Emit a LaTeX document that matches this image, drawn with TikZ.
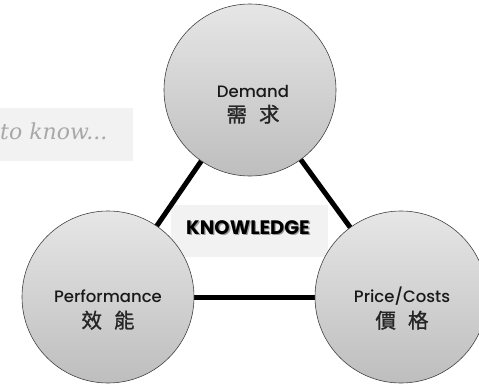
\documentclass[tikz,border=0pt]{standalone}
\usepackage{fontspec}
\newfontfamily\geo{Poppins Medium}
\newfontfamily\geob{Poppins Bold}
\newfontfamily\cjk[FakeBold=1.2]{Noto Sans CJK TC}
\newfontfamily\scr{DejaVu Serif}
\usetikzlibrary{backgrounds,shadings}
\definecolor{ctop}{HTML}{E6E6E6}
\definecolor{cbot}{HTML}{BEBEBE}
\definecolor{boxgray}{HTML}{F2F2F2}
\definecolor{scrgray}{HTML}{A8A8A8}
\tikzset{
  ball/.style={circle, minimum size=172pt, inner sep=0pt, draw=black!75, line width=0.6pt,
    top color=ctop, bottom color=cbot},
  latin/.style={font=\geo\fontsize{16.5}{17}\selectfont, text=black!90, inner sep=0pt, anchor=base},
  han/.style={font=\cjk\fontsize{20.5}{21}\selectfont, text=black!85, inner sep=0pt, anchor=base},
  link/.style={line width=5pt, black},
  panel/.style={fill=boxgray, draw=none},
}
\begin{document}
\begin{tikzpicture}[x=1pt, y=-1pt]
\useasboundingbox (0,0) rectangle (479,388);
% circles
\node[ball] (dem) at (250,90) {};
\node[ball] (perf) at (108,297) {};
\node[ball] (price) at (401,297) {};
% texts
\node[latin] (demt) at (253,97) {Demand};
\node[han] (demh) at (253,122) {需\hspace{12pt}求};
\node[latin] (perft) at (108,302) {Performance};
\node[han] (perfh) at (108,328) {效\hspace{12pt}能};
\node[latin] (pricet) at (402,302) {Price/Costs};
\node[han] (priceh) at (402,328) {價\hspace{12pt}格};
\begin{scope}[on background layer]
  \path[panel] (0,108) rectangle (133,161);
  \path[panel] (171,205) rectangle (328,257);
  \node[font=\scr\itshape\fontsize{22}{23}\selectfont, text=scrgray, anchor=base west, inner sep=0pt] (know) at (0,139) {to know...};
  \node[font=\geob\fontsize{19.5}{20}\selectfont, text=black!40, inner sep=0pt] (kwsh) at (249.3,228.8) {KNOWLEDGE};
  \node[font=\geob\fontsize{19.5}{20}\selectfont, text=black, inner sep=0pt] (kw) at (248,227.5) {KNOWLEDGE};
  \draw[link] (dem.center) -- (perf.center);
  \draw[link] (dem.center) -- (price.center);
  \draw[link] (perf.center) -- (price.center);
\end{scope}
\end{tikzpicture}
\end{document}
